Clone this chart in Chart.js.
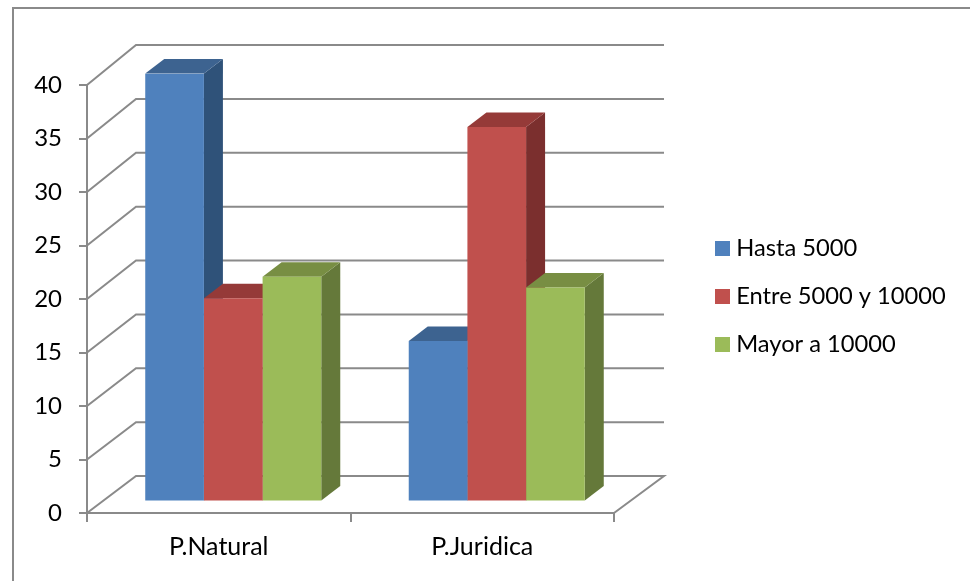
<!DOCTYPE html>
<html>
<head>
<meta charset="utf-8">
<title>Clientes</title>
<style>
  html, body { margin: 0; padding: 0; background: #fff; }
  canvas { display: block; }
</style>
<script src="https://cdn.jsdelivr.net/npm/chart.js@4"></script>
</head>
<body>
<canvas id="grafico" width="970" height="581"></canvas>
<script>
var categorias = ["P.Natural", "P.Juridica"];
var hasta5000 = [40, 15];
var entre5000y10000 = [19, 35];
var mayor10000 = [21, 20];

var GRIS = "#8a8a8a";
var FUENTE = "Lato, Carlito, sans-serif";

// front plane of the bars and depth of the box, in px
var BARRA_DX = 14.5, BARRA_DY = -11.5;
var PROF_DX = 19, PROF_DY = -14.5;

function poligono(ctx, color, puntos) {
    ctx.fillStyle = color;
    ctx.beginPath();
    puntos.forEach(function (p, i) {
        if (i == 0) ctx.moveTo(p[0], p[1]);
        else ctx.lineTo(p[0], p[1]);
    });
    ctx.closePath();
    ctx.fill();
}

// small square for the legend, wider than the box chart.js reserves for it
function muestra(color) {
    var c = document.createElement("canvas");
    c.width = 15;
    c.height = 15;
    var g = c.getContext("2d");
    g.fillStyle = color;
    g.fillRect(0, 0, 15, 15);
    return c;
}

var marco = {
    id: "marco",
    beforeDraw: function (chart) {
        var ctx = chart.ctx;
        ctx.fillStyle = "#fff";
        ctx.fillRect(0, 0, chart.width, chart.height);
        ctx.strokeStyle = GRIS;
        ctx.lineWidth = 2;
        ctx.beginPath();
        ctx.moveTo(13, chart.height);
        ctx.lineTo(13, 8);
        ctx.lineTo(chart.width, 8);
        ctx.stroke();
    }
};

// floor and wall lines going back from the value axis
var paredes = {
    id: "paredes",
    beforeDatasetsDraw: function (chart) {
        var ctx = chart.ctx, y = chart.scales.y, area = chart.chartArea;
        ctx.save();
        ctx.strokeStyle = GRIS;
        ctx.lineWidth = 2;
        y.ticks.forEach(function (t) {
            var py = y.getPixelForValue(t.value);
            var fondo = py - 37 - t.value * 0.075;
            ctx.beginPath();
            ctx.moveTo(area.left, py);
            ctx.lineTo(area.left + 49, fondo);
            ctx.lineTo(area.right + 50, fondo);
            if (t.value == 0) ctx.lineTo(area.right, py);
            ctx.stroke();
        });
        ctx.restore();
    }
};

// top and side faces; the front faces are the regular chart.js bars
var caras = {
    id: "caras",
    beforeDatasetsDraw: function (chart) {
        var ctx = chart.ctx;
        chart.data.datasets.forEach(function (ds, i) {
            chart.getDatasetMeta(i).data.forEach(function (b) {
                var izq = b.x - b.width / 2 + BARRA_DX;
                var der = b.x + b.width / 2 + BARRA_DX;
                var arriba = b.y + BARRA_DY;
                var abajo = b.base + BARRA_DY;
                poligono(ctx, ds.colorLado, [[der, arriba], [der + PROF_DX, arriba + PROF_DY],
                    [der + PROF_DX, abajo + PROF_DY], [der, abajo]]);
                poligono(ctx, ds.colorTapa, [[izq, arriba], [der, arriba],
                    [der + PROF_DX, arriba + PROF_DY], [izq + PROF_DX, arriba + PROF_DY]]);
            });
        });
        ctx.save();
        ctx.translate(BARRA_DX, BARRA_DY);
    },
    afterDatasetsDraw: function (chart) {
        chart.ctx.restore();
    }
};

// the legend sits apart from the plot, past the back wall
var leyenda = {
    id: "leyenda",
    afterLayout: function (chart) {
        var l = chart.legend;
        l.left = 696;
        l.right = 970;
        l.top = 212;
        l.bottom = 400;
        l.width = l.right - l.left;
        l.height = l.bottom - l.top;
    }
};

var data = {
    labels: categorias,
    datasets: [
        { label: "Hasta 5000", data: hasta5000, backgroundColor: "#4f81bd", colorLado: "#2f5279", colorTapa: "#3d6390" },
        { label: "Entre 5000 y 10000", data: entre5000y10000, backgroundColor: "#c0504d", colorLado: "#7b2f2e", colorTapa: "#953a38" },
        { label: "Mayor a 10000", data: mayor10000, backgroundColor: "#9bbb59", colorLado: "#65793a", colorTapa: "#788e43" }
    ]
};

var options = {
    responsive: false,
    animation: false,
    layout: {
        autoPadding: false,
        padding: { left: 0, top: 85, right: 356, bottom: 0 }
    },
    datasets: {
        bar: { categoryPercentage: 0.668, barPercentage: 1, borderWidth: 0 }
    },
    scales: {
        x: {
            afterFit: function (s) { s.height = 68; },
            border: { color: GRIS, width: 2 },
            grid: { drawOnChartArea: false, color: GRIS, lineWidth: 2, tickLength: 9 },
            ticks: { color: "#000", padding: 10, maxRotation: 0, font: { family: FUENTE, size: 25 } }
        },
        y: {
            min: 0,
            max: 40,
            afterFit: function (s) { s.width = 87; },
            border: { color: GRIS, width: 2 },
            grid: { drawOnChartArea: false, color: GRIS, lineWidth: 2, tickLength: 8 },
            ticks: { stepSize: 5, color: "#000", padding: 17, font: { family: FUENTE, size: 24 } }
        }
    },
    plugins: {
        tooltip: { enabled: false },
        legend: {
            position: "chartArea",
            align: "start",
            labels: {
                color: "#000",
                padding: 24.3,
                usePointStyle: true,
                pointStyleWidth: 4,
                font: { family: FUENTE, size: 23.7 },
                generateLabels: function (chart) {
                    return Chart.defaults.plugins.legend.labels.generateLabels(chart).map(function (item, i) {
                        item.pointStyle = muestra(chart.data.datasets[i].backgroundColor);
                        return item;
                    });
                }
            }
        }
    }
};

var chart = new Chart(document.getElementById("grafico"), {
    type: "bar",
    data: data,
    options: options,
    plugins: [marco, paredes, caras, leyenda]
});
</script>
</body>
</html>
